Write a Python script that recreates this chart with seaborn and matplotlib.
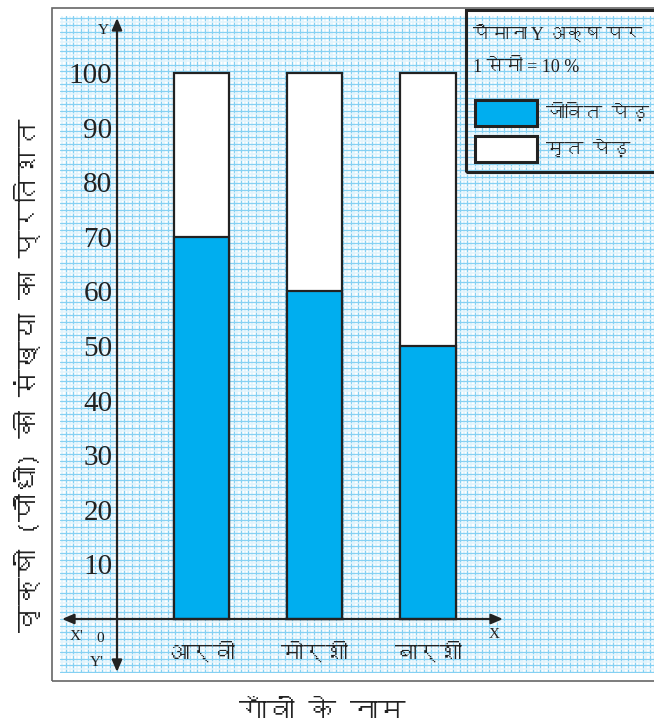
import numpy as np
import pandas as pd
import matplotlib
matplotlib.use("Agg")
import matplotlib.pyplot as plt
from matplotlib import font_manager
from matplotlib.patches import Rectangle, Patch
from matplotlib.ticker import MultipleLocator
import seaborn as sns

# data
villages = ["आर्वी", "मोर्शी", "बार्शी"]
alive = [70, 60, 50]          # जीवित पेड़ (%)
dead = [30, 40, 50]           # मृत पेड़ (%)
y_ticks = [10, 20, 30, 40, 50, 60, 70, 80, 90, 100]
legend_labels = ["जीवित पेड़", "मृत पेड़"]
scale_lines = ["पैमाना Y अक्ष पर", "1 सेमी = 10 %"]
x_title = "गाँवों के नाम"
y_title = "वृक्षों (पौधों) की संख्या का प्रतिशत"

BLUE = "#00AEEF"
INK = "#222222"


def find_devanagari_font():
    # look for any installed font that has Devanagari glyphs
    try:
        from fontTools.ttLib import TTFont
    except ImportError:
        return None
    for f in font_manager.fontManager.ttflist:
        try:
            cmap = TTFont(f.fname, fontNumber=0, lazy=True).getBestCmap()
        except Exception:
            continue
        if cmap and 0x0915 in cmap:
            return f.name
    return None


sns.set_style("white")
deva = find_devanagari_font()
sans = [deva, "DejaVu Sans"] if deva else ["DejaVu Sans"]
serif = ["Liberation Serif"] + sans
plt.rcParams["font.family"] = sans

W, H = 654, 726
fig = plt.figure(figsize=(W / 100, H / 100), dpi=100)


def fx(px):
    return px / W


def fy(py):
    return 1 - py / H


rect = [fx(60), fy(673), fx(654) - fx(60), fy(16) - fy(673)]

# graph paper background
bg = fig.add_axes(rect, zorder=0)
bg.set_xlim(0, 594)
bg.set_ylim(0, 657)
bg.xaxis.set_major_locator(MultipleLocator(7.3, offset=5.9))
bg.xaxis.set_minor_locator(MultipleLocator(7.3, offset=5.9 + 3.65))
bg.yaxis.set_major_locator(MultipleLocator(6.6, offset=1.2))
bg.yaxis.set_minor_locator(MultipleLocator(6.6, offset=1.2 + 3.3))
bg.grid(which="minor", color="#e2f4fc", lw=1.1)
bg.grid(which="major", color="#86d1f3", lw=0.95)
bg.tick_params(which="both", length=0, labelbottom=False, labelleft=False)
for s in bg.spines.values():
    s.set_visible(False)

# bars
ax = fig.add_axes(rect, zorder=1)
ax.patch.set_alpha(0)
df = pd.DataFrame({"village": villages, "alive": alive,
                   "total": np.add(alive, dead)})
sns.barplot(data=df, x="village", y="total", color="white", edgecolor=INK,
            linewidth=1.6, width=0.486, saturation=1, ax=ax)
sns.barplot(data=df, x="village", y="alive", color=BLUE, edgecolor=INK,
            linewidth=1.6, width=0.486, saturation=1, ax=ax)

px_per_unit_y = 5.46
px_per_cat = 113.25
x0_px, zero_px = 201.5, 619
ax.set_xlim((60 - x0_px) / px_per_cat, (654 - x0_px) / px_per_cat)
ax.set_ylim(-(673 - zero_px) / px_per_unit_y, (zero_px - 16) / px_per_unit_y)
ax.set_xlabel("")
ax.set_ylabel("")

yaxis_x = (117 - x0_px) / px_per_cat
ax.spines["left"].set_position(("data", yaxis_x))
ax.spines["bottom"].set_position(("data", 0))
for s in ax.spines.values():
    s.set_visible(False)

ax.set_yticks(y_ticks)
ax.tick_params(axis="y", direction="inout", length=6.5, width=1.4, color=INK,
               labelsize=21, pad=0, labelcolor=INK)
for lab in ax.get_yticklabels():
    lab.set_family(serif)
ax.tick_params(axis="x", length=0, labelsize=16, pad=16, labelcolor=INK)
for lab in ax.get_xticklabels():
    lab.set_fontweight("bold")

# axis lines with arrows
ax.annotate("", xy=((503 - x0_px) / px_per_cat, 0),
            xytext=((62 - x0_px) / px_per_cat, 0),
            arrowprops=dict(arrowstyle="<|-|>,head_length=0.7,head_width=0.3",
                            color=INK, lw=1.6, shrinkA=0, shrinkB=0))
ax.annotate("", xy=(yaxis_x, (zero_px - 18) / px_per_unit_y),
            xytext=(yaxis_x, -(672 - zero_px) / px_per_unit_y),
            arrowprops=dict(arrowstyle="<|-|>,head_length=0.7,head_width=0.3",
                            color=INK, lw=1.6, shrinkA=0, shrinkB=0))

for txt, px, py in [("Y", 103, 30), ("X'", 77, 637), ("0", 100, 638),
                    ("Y'", 97, 663), ("X", 494, 635)]:
    fig.text(fx(px), fy(py), txt, ha="center", va="center", fontsize=11,
             color=INK, family=serif)

# outer frame and legend frame
fig.add_artist(Rectangle((fx(52), fy(681)), 1, fy(8) - fy(681),
                         transform=fig.transFigure, fill=False,
                         ec="#666666", lw=1.2))
fig.add_artist(Rectangle((fx(466), fy(172)), 1, fy(10) - fy(172),
                         transform=fig.transFigure, fill=False,
                         ec=INK, lw=2.2, zorder=3))

fig.text(fx(473), fy(35), scale_lines[0], ha="left", va="center",
         fontsize=13, color=INK, family=serif)
fig.text(fx(473), fy(68), scale_lines[1], ha="left", va="center",
         fontsize=13, color=INK, family=serif)

handles = [Patch(fc=BLUE, ec=INK, lw=2.2), Patch(fc="white", ec=INK, lw=2.2)]
fig.legend(handles, legend_labels, loc="upper left",
           bbox_to_anchor=(fx(471), fy(96)), frameon=False,
           handlelength=3.3, handleheight=1.75, fontsize=13.5,
           labelspacing=0.55, handletextpad=0.5, borderaxespad=0,
           borderpad=0.2)

fig.text(fx(28), fy(375), y_title, rotation=90, ha="center", va="center",
         fontsize=20, color=INK, fontweight="bold")
fig.text(fx(322), fy(711), x_title, ha="center", va="center",
         fontsize=20, color=INK, fontweight="bold")

fig.savefig("out.png", dpi=100)
